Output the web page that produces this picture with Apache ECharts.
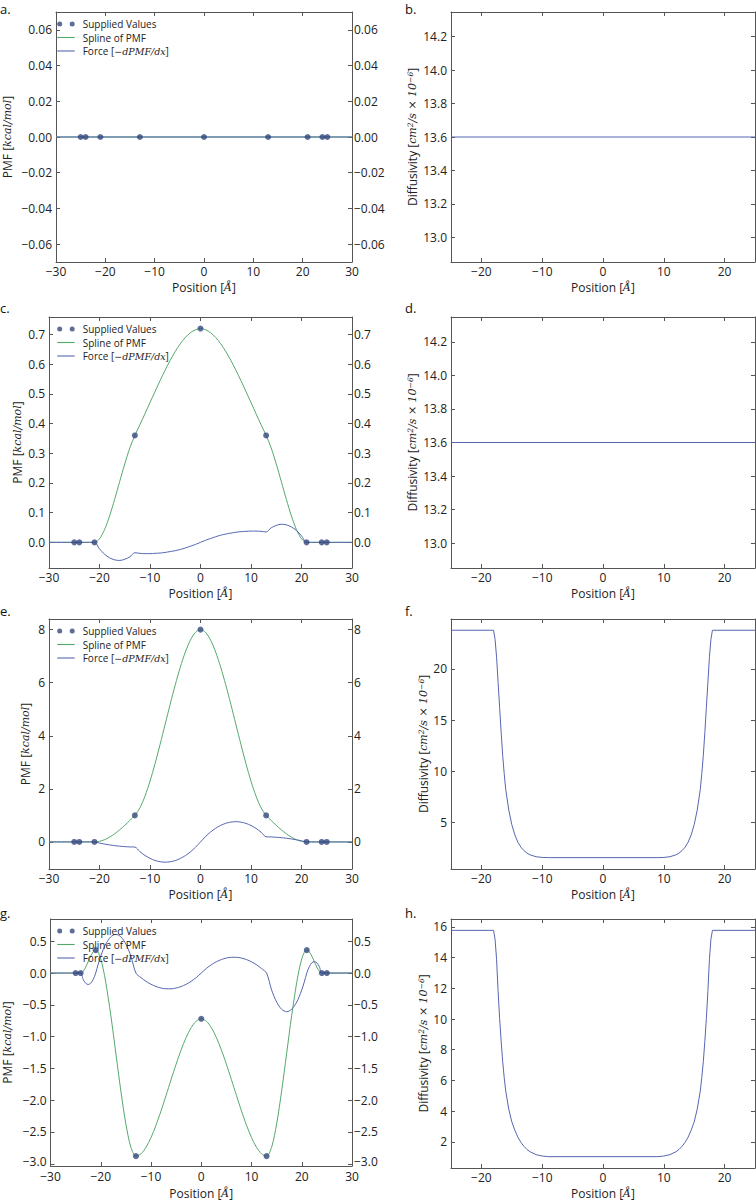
<!DOCTYPE html>
<html><head><meta charset="utf-8">
<script src="https://cdn.jsdelivr.net/npm/echarts@6/dist/echarts.min.js"></script>
<style>html,body{margin:0;padding:0;background:#fff}#c{width:756px;height:1200px}</style>
</head><body><div id="c"></div>
<script>
// ---------- DATA ----------
const suppliedX = [-25, -24, -21, -13, 0, 13, 21, 24, 25];
const suppliedA = [0, 0, 0, 0, 0, 0, 0, 0, 0];
const suppliedC = [0, 0, 0, 0.36, 0.72, 0.36, 0, 0, 0];
const suppliedE = [0, 0, 0, 1, 8, 1, 0, 0, 0];
const suppliedG = [0, 0, 0.36, -2.88, -0.72, -2.88, 0.36, 0, 0];

const xA = [-30, 30];
const pmfA = [0, 0];
const forceA = [0, 0];

const xInt = [-30,-29,-28,-27,-26,-25,-24,-23,-22,-21,-20,-19,-18,-17,-16,-15,-14,-13,-12,-11,-10,-9,-8,-7,-6,-5,-4,-3,-2,-1,0,
  1,2,3,4,5,6,7,8,9,10,11,12,13,14,15,16,17,18,19,20,21,22,23,24,25,26,27,28,29,30];

const pmfC = [0,0,0,0,0,0,0,0,0,0,
  0.012,0.043,0.089,0.145,0.205,0.264,0.318,0.36,
  0.396,0.433,0.471,0.508,0.545,0.580,0.613,0.643,0.669,0.690,0.706,0.716,
  0.72,
  0.716,0.706,0.690,0.669,0.643,0.613,0.580,0.545,0.508,0.471,0.433,0.396,
  0.36,0.318,0.264,0.205,0.145,0.089,0.043,0.012,
  0,0,0,0,0,0,0,0,0,0];
const forceC = [0,0,0,0,0,0,0,0,0,0,
  -0.022,-0.040,-0.052,-0.059,-0.061,-0.057,-0.049,-0.035,
  -0.037,-0.038,-0.038,-0.037,-0.036,-0.034,-0.031,-0.028,-0.024,-0.019,-0.013,-0.007,
  0,
  0.007,0.013,0.019,0.024,0.028,0.031,0.034,0.036,0.037,0.038,0.038,0.037,
  0.035,0.049,0.057,0.061,0.059,0.052,0.040,0.022,
  0,0,0,0,0,0,0,0,0,0];

const pmfE = [0,0,0,0,0,0,0,0,0,0,
  0.022,0.084,0.180,0.307,0.457,0.626,0.809,1.0,
  1.283,1.723,2.289,2.950,3.676,4.433,5.192,5.919,6.583,7.157,7.604,7.896,
  8.0,
  7.896,7.604,7.157,6.583,5.919,5.192,4.433,3.676,2.950,2.289,1.723,1.283,
  1.0,0.809,0.626,0.457,0.307,0.180,0.084,0.022,
  0,0,0,0,0,0,0,0,0,0];
const forceE = [0,0,0,0,0,0,0,0,0,0,
  -0.043,-0.080,-0.112,-0.139,-0.161,-0.177,-0.188,-0.193,
  -0.367,-0.509,-0.619,-0.699,-0.746,-0.763,-0.748,-0.702,-0.624,-0.515,-0.375,-0.203,
  0,
  0.203,0.375,0.515,0.624,0.702,0.748,0.763,0.746,0.699,0.619,0.509,0.367,
  0.193,0.188,0.177,0.161,0.139,0.112,0.080,0.043,
  0,0,0,0,0,0,0,0,0,0];

const xG = [-30,-25,-24,-23.5,-23,-22.5,-22,-21.5,-21,-20.5,-20,-19.5,-19,
  -18,-17,-16,-15,-14,-13,-12,-11,-10,-9,-8,-7,-6,-5,-4,-3,-2,-1,0,
  1,2,3,4,5,6,7,8,9,10,11,12,13,14,15,16,17,18,
  19,19.5,20,20.5,21,21.5,22,22.5,23,23.5,24,25,30];
const pmfG = [0,0,0,0.027,0.093,0.18,0.267,0.333,0.36,0.324,0.221,0.061,-0.146,
  -0.665,-1.26,-1.855,-2.374,-2.741,-2.88,-2.844,-2.742,-2.588,-2.392,-2.167,-1.924,-1.675,-1.433,-1.208,-1.012,-0.858,-0.757,-0.72,
  -0.757,-0.858,-1.012,-1.208,-1.433,-1.675,-1.924,-2.167,-2.392,-2.588,-2.742,-2.844,-2.88,-2.741,-2.374,-1.855,-1.26,-0.665,
  -0.146,0.061,0.221,0.324,0.36,0.333,0.267,0.18,0.093,0.027,0,0,0];
const forceG = [0,0,0,-0.1,-0.16,-0.18,-0.16,-0.1,0,0.142,0.266,0.370,0.456,
  0.570,0.608,0.570,0.456,0.266,0,-0.071,-0.130,-0.177,-0.212,-0.236,-0.248,-0.248,-0.236,-0.212,-0.177,-0.130,-0.071,0,
  0.071,0.130,0.177,0.212,0.236,0.248,0.248,0.236,0.212,0.177,0.130,0.071,0,-0.266,-0.456,-0.570,-0.608,-0.570,
  -0.456,-0.370,-0.266,-0.142,0,0.1,0.16,0.18,0.16,0.1,0,0,0];

const xB = [-25, 25];
const diffB = [13.6, 13.6];
const diffD = [13.6, 13.6];

const xD = [-25,-18,-17.75,-17.5,-17.25,-17,-16.75,-16.5,-16.25,-16,-15.5,-15,-14.5,-14,-13.5,-13,-12.5,-12,-11,-10,-9,
  0,
  9,10,11,12,12.5,13,13.5,14,14.5,15,15.5,16,16.25,16.5,16.75,17,17.25,17.5,17.75,18,25];
const diffF = [23.77,23.77,22.88,21.1,18.66,16.22,13.78,11.55,9.78,8.22,6.22,4.78,3.78,3.07,2.58,2.25,2.0,1.83,1.65,1.58,1.56,
  1.56,
  1.56,1.58,1.65,1.83,2.0,2.25,2.58,3.07,3.78,4.78,6.22,8.22,9.78,11.55,13.78,16.22,18.66,21.1,22.88,23.77,23.77];
const diffH = [15.78,15.78,15.19,13.86,11.8,10.03,8.55,7.23,6.19,5.31,4.13,3.3,2.75,2.3,1.96,1.7,1.5,1.35,1.16,1.07,1.03,
  1.03,
  1.03,1.07,1.16,1.35,1.5,1.7,1.96,2.3,2.75,3.3,4.13,5.31,6.19,7.23,8.55,10.03,11.8,13.86,15.19,15.78,15.78];

// tick labels
const xTicksL = [-30, -20, -10, 0, 10, 20, 30];
const xTicksR = [-20, -10, 0, 10, 20];
const ticksA = [-0.06, -0.04, -0.02, 0, 0.02, 0.04, 0.06];
const ticksBD = [13.0, 13.2, 13.4, 13.6, 13.8, 14.0, 14.2];
const ticksC = [0, 0.1, 0.2, 0.3, 0.4, 0.5, 0.6, 0.7];
const ticksE = [0, 2, 4, 6, 8];
const ticksF = [5, 10, 15, 20];
const ticksG = [-3.0, -2.5, -2.0, -1.5, -1.0, -0.5, 0.0, 0.5];
const ticksH = [2, 4, 6, 8, 10, 12, 14, 16];
const panelLetters = ['a.', 'b.', 'c.', 'd.', 'e.', 'f.', 'g.', 'h.'];

// ---------- STYLE / LAYOUT ----------
const FONT = "'Open Sans', sans-serif";
const MATH = "'DejaVu Serif', serif";
const TXT = '#222';
const FRAME = '#555';
const C_DOT = '#34497e', C_SPL = '#55a86d', C_FRC = '#5766b0';

const grids = [
  {left: 49, top: 12, width: 303, height: 250},
  {left: 451, top: 12, width: 304, height: 250},
  {left: 49, top: 317, width: 303, height: 251},
  {left: 451, top: 317, width: 304, height: 251},
  {left: 49, top: 619, width: 303, height: 250},
  {left: 451, top: 619, width: 304, height: 250},
  {left: 49, top: 919, width: 303, height: 250},
  {left: 451, top: 919, width: 304, height: 250}
];
const letterPos = [[0, 2], [405, 2], [0, 301], [405, 301], [0, 604], [405, 604], [0, 906], [405, 906]];

function fmt(dec) {
  return v => {
    const s = Math.abs(v) < 1e-9 ? (0).toFixed(dec) : v.toFixed(dec);
    return s.replace('-', '\u2212');
  };
}
// raise the lowest tick label slightly so it does not collide with the x tick labels
function fmtRaiseMin(dec, minTick) {
  const f = fmt(dec);
  return v => Math.abs(v - minTick) < 1e-9 ? '{lo|' + f(v) + '}' : f(v);
}
const loRich = {lo: {fontSize: 12, fontFamily: FONT, color: TXT, lineHeight: 9, padding: [0, 0, 5, 0]}};
const mathRich = {
  m: {fontFamily: MATH, fontStyle: 'italic', fontSize: 11, color: TXT},
  s: {fontFamily: MATH, fontStyle: 'italic', fontSize: 7.5, color: TXT, verticalAlign: 'top', padding: [0, 0, 4, 0]}
};

const xAxis = [], yAxis = [];
function addX(gi, min, max, ticks, labelMargin, nameGap) {
  const common = {
    type: 'value', gridIndex: gi, min, max,
    axisLine: {show: true, onZero: false, lineStyle: {color: FRAME, width: 1}},
    axisTick: {show: true, inside: true, length: 4, customValues: ticks, lineStyle: {color: FRAME}},
    splitLine: {show: false}
  };
  xAxis.push(Object.assign({}, common, {
    position: 'bottom',
    axisLabel: {show: true, customValues: ticks, formatter: fmt(0), margin: labelMargin, lineHeight: 12, color: TXT, fontSize: 12, fontFamily: FONT},
    name: 'Position [{m|Å}]', nameLocation: 'middle', nameGap,
    nameTextStyle: {color: TXT, fontSize: 12, fontFamily: FONT, rich: mathRich}
  }));
  xAxis.push(Object.assign({}, common, {position: 'top', axisLabel: {show: false}}));
}
function addY(gi, min, max, ticks, dec, name, gap, rightLabels, raiseMin) {
  const common = {
    type: 'value', gridIndex: gi, min, max,
    axisLine: {show: true, onZero: false, lineStyle: {color: FRAME, width: 1}},
    axisTick: {show: true, inside: true, length: 4, customValues: ticks, lineStyle: {color: FRAME}},
    splitLine: {show: false}
  };
  const formatter = raiseMin ? fmtRaiseMin(dec, ticks[0]) : fmt(dec);
  yAxis.push(Object.assign({}, common, {
    position: 'left',
    axisLabel: {show: true, customValues: ticks, formatter, margin: 4, lineHeight: 9, color: TXT, fontSize: 12, fontFamily: FONT, rich: loRich},
    name, nameLocation: 'middle', nameGap: gap, nameRotate: 90,
    nameTextStyle: {color: TXT, fontSize: 12, fontFamily: FONT, rich: mathRich}
  }));
  yAxis.push(Object.assign({}, common, {
    position: 'right',
    axisLabel: rightLabels
      ? {show: true, customValues: ticks, formatter, margin: 2, lineHeight: 9, color: TXT, fontSize: 12, fontFamily: FONT, rich: loRich}
      : {show: false}
  }));
}
const PMF_NAME = 'PMF [{m|kcal/mol}]';
const DIFF_NAME = 'Diffusivity [{m|cm}{s|2}{m|/s × 10}{s|−6}]';

addX(0, -30, 30, xTicksL, 3, 19); addY(0, -0.07, 0.07, ticksA, 2, PMF_NAME, 43, true, false);
addX(1, -25, 25, xTicksR, 3, 19); addY(1, 12.852, 14.348, ticksBD, 1, DIFF_NAME, 33, false, false);
addX(2, -30, 30, xTicksL, 3, 19); addY(2, -0.0864, 0.759, ticksC, 1, PMF_NAME, 26, true, false);
addX(3, -25, 25, xTicksR, 3, 19); addY(3, 12.852, 14.348, ticksBD, 1, DIFF_NAME, 33, false, false);
addX(4, -30, 30, xTicksL, 3, 19); addY(4, -1.02, 8.40, ticksE, 0, PMF_NAME, 17.5, true, false);
addX(5, -25, 25, xTicksR, 3, 19); addY(5, 0.45, 24.87, ticksF, 0, DIFF_NAME, 21, false, false);
addX(6, -30, 30, xTicksL, 4, 21); addY(6, -3.035, 0.85, ticksG, 1, PMF_NAME, 37.5, true, true);
addX(7, -25, 25, xTicksR, 3, 19); addY(7, 0.29, 16.52, ticksH, 0, DIFF_NAME, 21, false, false);

const pairs = (xs, ys) => xs.map((x, i) => [x, ys[i]]);
const series = [];
function addLine(gi, name, xs, ys, color, z, smooth) {
  series.push({type: 'line', name, xAxisIndex: 2 * gi, yAxisIndex: 2 * gi, data: pairs(xs, ys),
    showSymbol: false, symbol: 'none', smooth: smooth, lineStyle: {color, width: 1}, itemStyle: {color},
    z, silent: true, animation: false});
}
function addDots(gi, ys) {
  series.push({type: 'scatter', name: 'Supplied Values', xAxisIndex: 2 * gi, yAxisIndex: 2 * gi,
    data: pairs(suppliedX, ys), symbolSize: 6, itemStyle: {color: C_DOT}, z: 5, silent: true, animation: false});
}
addDots(0, suppliedA); addLine(0, 'Spline of PMF', xA, pmfA, C_SPL, 2, false); addLine(0, 'Force', xA, forceA, C_FRC, 3, false);
addLine(1, 'Diffusivity', xB, diffB, C_FRC, 2, false);
addDots(2, suppliedC); addLine(2, 'Spline of PMF', xInt, pmfC, C_SPL, 2, 0.3); addLine(2, 'Force', xInt, forceC, C_FRC, 3, 0.3);
addLine(3, 'Diffusivity', xB, diffD, C_FRC, 2, false);
addDots(4, suppliedE); addLine(4, 'Spline of PMF', xInt, pmfE, C_SPL, 2, 0.3); addLine(4, 'Force', xInt, forceE, C_FRC, 3, 0.3);
addLine(5, 'Diffusivity', xD, diffF, C_FRC, 2, false);
addDots(6, suppliedG); addLine(6, 'Spline of PMF', xG, pmfG, C_SPL, 2, 0.3); addLine(6, 'Force', xG, forceG, C_FRC, 3, 0.3);
addLine(7, 'Diffusivity', xD, diffH, C_FRC, 2, false);

const DOTS = 'path://M0,2.5a2.5,2.5 0 1,0 5,0a2.5,2.5 0 1,0 -5,0zM12.5,2.5a2.5,2.5 0 1,0 5,0a2.5,2.5 0 1,0 -5,0z';
const LINE = 'path://M0,0H17.5V1.1H0Z';
const legend = [0, 2, 4, 6].map(gi => ({
  show: true, orient: 'vertical', left: grids[gi].left + 8.2, top: grids[gi].top + 7, padding: 0,
  itemGap: 3.5, itemWidth: 17.5, itemHeight: 5, selectedMode: false, symbolKeepAspect: true,
  textStyle: {fontSize: 10, fontFamily: FONT, color: TXT, padding: [0, 0, 0, 3],
    rich: {m: {fontFamily: MATH, fontStyle: 'italic', fontSize: 9.5, color: TXT}}},
  formatter: n => n === 'Force' ? 'Force [{m|−dPMF/dx}]' : n,
  data: [
    {name: 'Supplied Values', icon: DOTS, itemStyle: {color: C_DOT, borderWidth: 0}},
    {name: 'Spline of PMF', icon: LINE, itemStyle: {color: C_SPL, borderWidth: 0}},
    {name: 'Force', icon: LINE, itemStyle: {color: C_FRC, borderWidth: 0}}
  ]
}));

const title = panelLetters.map((t, i) => ({
  text: t, left: letterPos[i][0], top: letterPos[i][1], padding: 0,
  textStyle: {fontSize: 13, fontWeight: 'normal', fontFamily: FONT, color: '#111'}
}));

const chart = echarts.init(document.getElementById('c'), null, {renderer: 'svg', width: 756, height: 1200});
chart.setOption({
  animation: false,
  backgroundColor: '#fff',
  textStyle: {fontFamily: FONT},
  title, legend, grid: grids, xAxis, yAxis, series
});
</script></body></html>
